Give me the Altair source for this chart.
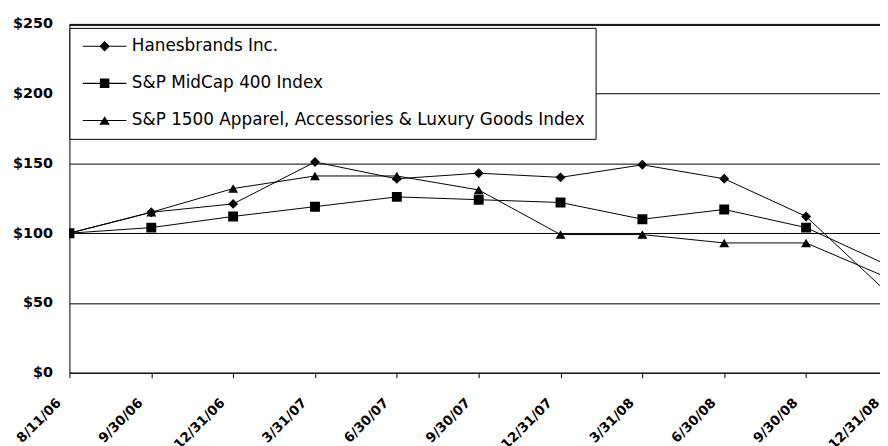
import altair as alt
import pandas as pd

dates = ["8/11/06", "9/30/06", "12/31/06", "3/31/07", "6/30/07", "9/30/07",
         "12/31/07", "3/31/08", "6/30/08", "9/30/08", "12/31/08"]
series = ["Hanesbrands Inc.", "S&P MidCap 400 Index",
          "S&P 1500 Apparel, Accessories & Luxury Goods Index"]
hanes = [100, 115, 121, 151, 139, 143, 140, 149, 139, 112, 57]
midcap = [100, 104, 112, 119, 126, 124, 122, 110, 117, 104, 77]
apparel = [100, 115, 132, 141, 141, 131, 99, 99, 93, 93, 68]
y_ticks = [0, 50, 100, 150, 200, 250]

rows = []
for name, vals in zip(series, [hanes, midcap, apparel]):
    for i, (d, v) in enumerate(zip(dates, vals)):
        rows.append({"series": name, "idx": i, "date": d, "value": v})
df = pd.DataFrame(rows)

label_expr = "[" + ",".join("'%s'" % d for d in dates) + "][datum.value]"

xscale = alt.Scale(domain=[0, 10], range=[0, 826], nice=False, zero=False)
yscale = alt.Scale(domain=[0, 250], nice=False, zero=True)

x = alt.X("idx:Q", scale=xscale, axis=alt.Axis(
    values=list(range(len(dates))), labelExpr=label_expr, title=None, grid=False,
    labelAngle=-45, labelAlign="right", labelBaseline="middle",
    labelPadding=23, labelOffset=-11, labelFont="DejaVu Sans",
    labelFontWeight="bold", labelFontSize=13.5, labelColor="black",
    labelOverlap=False, labelFlush=False, labelBound=False,
    domainColor="black", domainWidth=1, tickColor="black", tickSize=5, tickWidth=1))

y = alt.Y("value:Q", scale=yscale, axis=alt.Axis(
    values=y_ticks, labelExpr="'$' + datum.value", title=None, grid=True,
    gridColor="black", gridOpacity=1, gridWidth=1, ticks=False,
    domainColor="black", domainWidth=1, labelPadding=17,
    labelFont="DejaVu Sans", labelFontWeight="bold", labelFontSize=14.5,
    labelColor="black"))

# legend glyphs: a thin bar (the line) plus the marker, in symbol units (size 256 -> 8px per unit)
bar = "M-2.75,-0.07H2.75V0.07H-2.75Z"
legend_paths = [bar + "M0,-0.66L0.66,0L0,0.66L-0.66,0Z",
                bar + "M-0.6,-0.6H0.6V0.6H-0.6Z",
                bar + "M0,-0.55L0.66,0.55L-0.66,0.55Z"]

legend = alt.Legend(
    title=None, orient="none", legendX=0, legendY=4, direction="vertical",
    fillColor="white", strokeColor="black", padding=10,
    rowPadding=19.5, symbolSize=256, symbolFillColor="black",
    symbolStrokeColor="black", symbolStrokeWidth=0, symbolOpacity=1,
    symbolOffset=17,
    labelFont="DejaVu Sans", labelFontSize=17, labelColor="black",
    labelOffset=19, labelLimit=0)

lines = alt.Chart(df).mark_line(color="black", strokeWidth=1, clip=True).encode(
    x=x, y=y, detail="series:N")

points = alt.Chart(df).mark_point(filled=True, color="black", size=100,
                                  opacity=1, clip=True).encode(
    x=x, y=y,
    shape=alt.Shape("series:N", scale=alt.Scale(domain=series,
                    range=["diamond", "square", "triangle-up"]), legend=None))

legend_layer = alt.Chart(df).transform_filter("false").mark_point(
    filled=True, color="black").encode(
    x=x, y=y,
    shape=alt.Shape("series:N", scale=alt.Scale(domain=series, range=legend_paths),
                    legend=legend))

top = alt.Chart(pd.DataFrame({"value": [250]})).mark_rule(
    color="black", strokeWidth=1, yOffset=1.5).encode(y=alt.Y("value:Q", scale=yscale))

chart = alt.layer(lines, points, top, legend_layer).resolve_scale(
    shape="independent"
).properties(
    width=818, height=352,
    autosize=alt.AutoSizeParams(type="none"),
    padding={"left": 62, "top": 14, "right": 0, "bottom": 80},
    background="white",
).configure_view(stroke=None)

chart.save("out.html", embed_options={"renderer": "svg", "actions": False})
